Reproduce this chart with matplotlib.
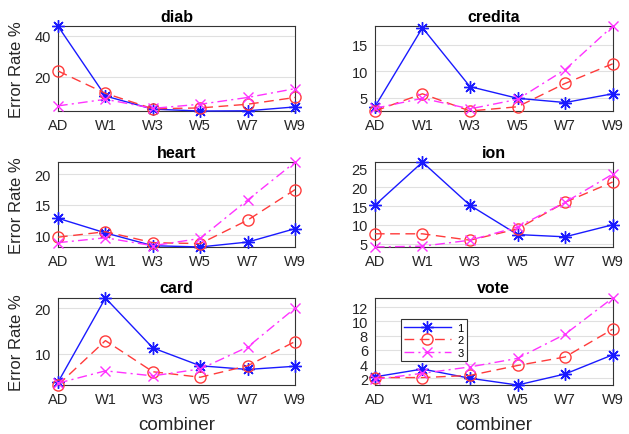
import matplotlib
matplotlib.use("Agg")
import matplotlib.pyplot as plt

plt.rcParams['font.family'] = ['Liberation Sans', 'DejaVu Sans']

combiners = ["AD", "W1", "W3", "W5", "W7", "W9"]
series_labels = ["1", "2", "3"]

diab_1 = [44.7, 10.7, 4.3, 3.4, 3.5, 5.4]
diab_2 = [22.9, 12.0, 4.5, 4.9, 6.7, 10.0]
diab_3 = [5.9, 9.1, 4.7, 6.7, 10.0, 14.3]

credita_1 = [3.3, 18.2, 7.1, 4.9, 4.1, 5.75]
credita_2 = [2.5, 5.75, 2.5, 3.3, 7.7, 11.4]
credita_3 = [3.0, 4.9, 2.9, 4.7, 10.3, 18.5]

heart_1 = [12.8, 10.4, 8.3, 8.1, 8.9, 11.1]
heart_2 = [9.7, 10.6, 8.8, 8.65, 12.5, 17.5]
heart_3 = [8.8, 9.6, 8.3, 9.5, 15.8, 22.0]

ion_1 = [15.2, 26.7, 15.2, 7.4, 6.8, 10.0]
ion_2 = [7.6, 7.6, 5.9, 8.9, 16.0, 21.4]
ion_3 = [4.1, 4.3, 5.9, 9.4, 16.0, 23.5]

card_1 = [3.8, 22.2, 11.3, 7.4, 6.6, 7.3]
card_2 = [3.2, 12.9, 6.1, 4.9, 7.4, 12.7]
card_3 = [3.6, 6.3, 5.2, 6.7, 11.5, 20.0]

vote_1 = [2.2, 3.3, 2.0, 1.05, 2.6, 5.3]
vote_2 = [2.1, 2.1, 2.4, 3.8, 5.0, 8.9]
vote_3 = [1.85, 2.7, 3.6, 4.8, 8.2, 13.3]

datasets = [
    ("diab", [diab_1, diab_2, diab_3], [20, 40]),
    ("credita", [credita_1, credita_2, credita_3], [5, 10, 15]),
    ("heart", [heart_1, heart_2, heart_3], [10, 15, 20]),
    ("ion", [ion_1, ion_2, ion_3], [5, 10, 15, 20, 25]),
    ("card", [card_1, card_2, card_3], [10, 20]),
    ("vote", [vote_1, vote_2, vote_3], [2, 4, 6, 8, 10, 12]),
]

# asterisk marker: horizontal, vertical and both diagonal strokes
styles = [
    dict(color="#1a1aff", linestyle="-", marker=(8, 2, 0), markersize=9),
    dict(color="#ff3b3b", linestyle=(0, (7, 4)), marker="o", markersize=8,
         markerfacecolor="none"),
    dict(color="#ff33ff", linestyle=(0, (7, 3, 1.5, 3)), marker="x", markersize=7),
]

fig = plt.figure(figsize=(6.29, 4.35), dpi=100)

col_x = [0.0922, 0.596]
col_w = [0.377, 0.378]
row_y = [0.7425, 0.430, 0.1126]
row_h = [0.195, 0.195, 0.200]

x = list(range(len(combiners)))

for i, (name, series, yticks) in enumerate(datasets):
    r, c = divmod(i, 2)
    ax = fig.add_axes([col_x[c], row_y[r], col_w[c], row_h[r]])
    lines = []
    for vals, st in zip(series, styles):
        ln, = ax.plot(x, vals, linewidth=1.0, markeredgewidth=1.0,
                      clip_on=False, zorder=3, **st)
        lines.append(ln)
    allv = [v for s in series for v in s]
    ax.set_xlim(0, len(combiners) - 1)
    ax.set_ylim(min(allv), max(allv))
    ax.set_xticks(x)
    ax.set_xticklabels(combiners)
    ax.set_yticks(yticks)
    ax.tick_params(axis="both", labelsize=10.5, colors="#262626", length=0, pad=5)
    ax.yaxis.grid(True, color="#e0e0e0", linewidth=0.8)
    ax.set_axisbelow(True)
    for sp in ax.spines.values():
        sp.set_color("#333333")
        sp.set_linewidth(0.8)
    ax.set_title(name, fontsize=11.5, fontweight="bold", pad=4)
    if c == 0:
        ax.set_ylabel("Error Rate %", fontsize=12, color="#262626", labelpad=8)
    if r == 2:
        ax.set_xlabel("combiner", fontsize=13.5, color="#262626", labelpad=7)
    if name == "vote":
        leg = ax.legend(lines, series_labels, loc="upper left",
                        bbox_to_anchor=(0.085, 0.82), fontsize=8,
                        handlelength=4.2, fancybox=False, framealpha=1,
                        borderpad=0.3, labelspacing=0.25, handletextpad=0.6)
        leg.get_frame().set_edgecolor("#333333")
        leg.get_frame().set_linewidth(0.8)

fig.savefig("out.png", dpi=100)
